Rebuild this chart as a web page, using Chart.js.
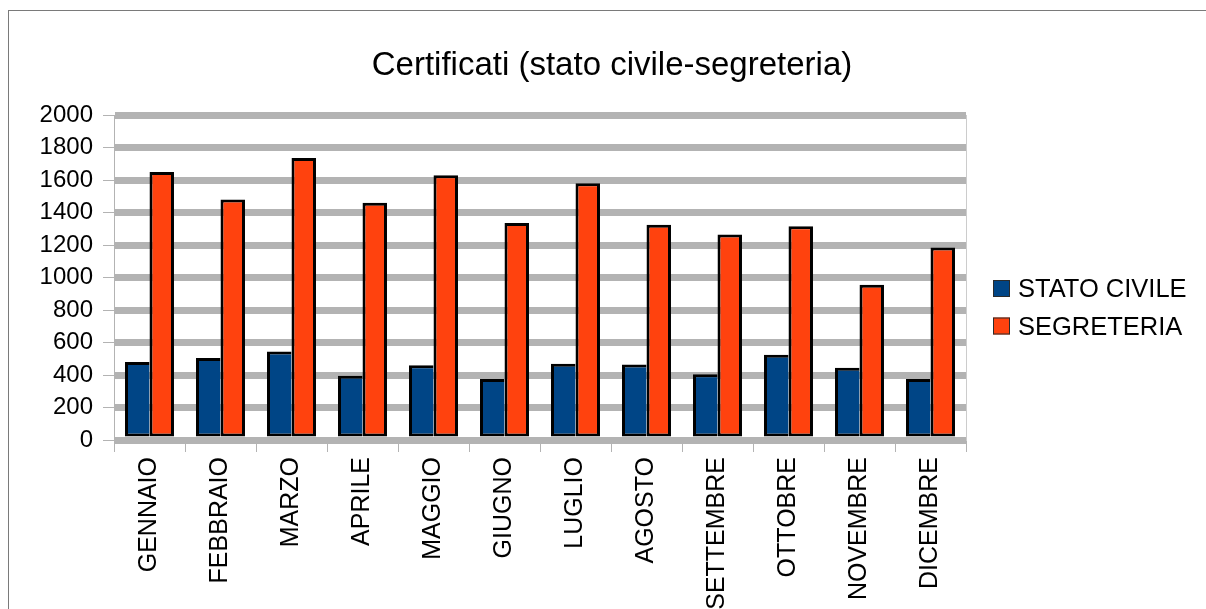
<!DOCTYPE html>
<html>
<head>
<meta charset="utf-8">
<script src="https://cdn.jsdelivr.net/npm/chart.js@4.4.1/dist/chart.umd.min.js"></script>
<style>
  html, body { margin: 0; padding: 0; background: #ffffff; overflow: hidden; width: 1206px; height: 609px; }
  #frame { position: absolute; left: 8px; top: 10px; width: 1400px; height: 800px; border: 1px solid #7a7a7a; box-sizing: border-box; }
  #wrap { position: absolute; left: 0; top: 0; width: 1206px; height: 609px; }
</style>
</head>
<body>
<div id="frame"></div>
<div id="wrap"><canvas id="grafico" width="1206" height="609"></canvas></div>
<script>
// Mesi e certificati rilasciati
const mesi = ['GENNAIO', 'FEBBRAIO', 'MARZO', 'APRILE', 'MAGGIO', 'GIUGNO',
              'LUGLIO', 'AGOSTO', 'SETTEMBRE', 'OTTOBRE', 'NOVEMBRE', 'DICEMBRE'];
const statoCivile = [480, 505, 545, 395, 460, 375, 470, 465, 405, 525, 445, 375];
const segreteria  = [1650, 1480, 1735, 1460, 1630, 1335, 1580, 1325, 1265, 1315, 955, 1185];
const serie = ['STATO CIVILE', 'SEGRETERIA'];
const titolo = 'Certificati (stato civile-segreteria)';
const yMin = 0, yMax = 2000, yPasso = 200;

const FONT = '"Liberation Sans", Arial, sans-serif';

// Legenda a destra dell'area del grafico
const legendaDestra = {
  id: 'legendaDestra',
  afterDraw(chart) {
    const ctx = chart.ctx;
    const area = chart.chartArea;
    const x = area.right + 27;
    const centri = [288.5, 326];
    ctx.save();
    chart.data.datasets.forEach((ds, i) => {
      const cy = centri[i];
      ctx.fillStyle = ds.backgroundColor;
      ctx.fillRect(x, cy - 8.5, 17, 17);
      ctx.strokeStyle = '#2b2b2b';
      ctx.lineWidth = 1;
      ctx.strokeRect(x + 0.5, cy - 8, 16, 16);
      ctx.fillStyle = '#000000';
      ctx.font = '25.5px ' + FONT;
      ctx.textBaseline = 'middle';
      ctx.textAlign = 'left';
      ctx.fillText(ds.label, x + 25, cy + 1.5);
    });
    ctx.restore();
  }
};

new Chart(document.getElementById('grafico'), {
  type: 'bar',
  data: {
    labels: mesi,
    datasets: [
      {
        label: serie[0],
        data: statoCivile,
        backgroundColor: '#004586',
        borderColor: '#000000',
        borderWidth: { top: 3, left: 3, right: 0, bottom: 3 },
        borderSkipped: false,
        yAxisID: 'y'
      },
      {
        label: serie[1],
        data: segreteria,
        backgroundColor: '#ff420e',
        borderColor: '#000000',
        borderWidth: 3,
        borderSkipped: false,
        yAxisID: 'y'
      }
    ]
  },
  options: {
    responsive: false,
    animation: false,
    devicePixelRatio: 1,
    categoryPercentage: 0.69,
    barPercentage: 1.0,
    layout: { padding: { left: 18, right: 0, top: 0, bottom: 0 } },
    plugins: {
      legend: { display: false },
      tooltip: { enabled: false },
      title: {
        display: true,
        text: titolo,
        color: '#000000',
        font: { family: FONT, size: 33, weight: 'normal', lineHeight: 1.2 },
        padding: { top: 46, bottom: 29.4 }
      }
    },
    scales: {
      x: {
        grid: {
          display: true,
          drawOnChartArea: false,
          drawTicks: true,
          offset: true,
          tickLength: 12,
          tickColor: '#b3b3b3',
          tickWidth: 1
        },
        border: { display: false },
        ticks: {
          color: '#000000',
          font: { family: FONT, size: 25 },
          minRotation: 90,
          maxRotation: 90,
          autoSkip: false,
          padding: 5
        },
        afterFit(scale) { scale.height = 169; }
      },
      y: {
        min: yMin,
        max: yMax,
        grid: {
          color: '#b3b3b3',
          lineWidth: 7,
          drawTicks: true,
          tickLength: 11,
          tickColor: '#b3b3b3',
          tickWidth: 1
        },
        border: { display: true, color: '#b3b3b3', width: 1 },
        ticks: {
          stepSize: yPasso,
          color: '#000000',
          font: { family: FONT, size: 24 },
          padding: 10,
          callback: (v) => String(v)
        },
        afterFit(scale) { scale.width = 96; }
      },
      lato: {
        type: 'linear',
        position: 'right',
        display: true,
        grid: { display: false, drawTicks: false },
        ticks: { display: false },
        border: { display: true, color: '#cccccc', width: 1 },
        afterFit(scale) { scale.width = 240; }
      }
    }
  },
  plugins: [legendaDestra]
});
</script>
</body>
</html>
